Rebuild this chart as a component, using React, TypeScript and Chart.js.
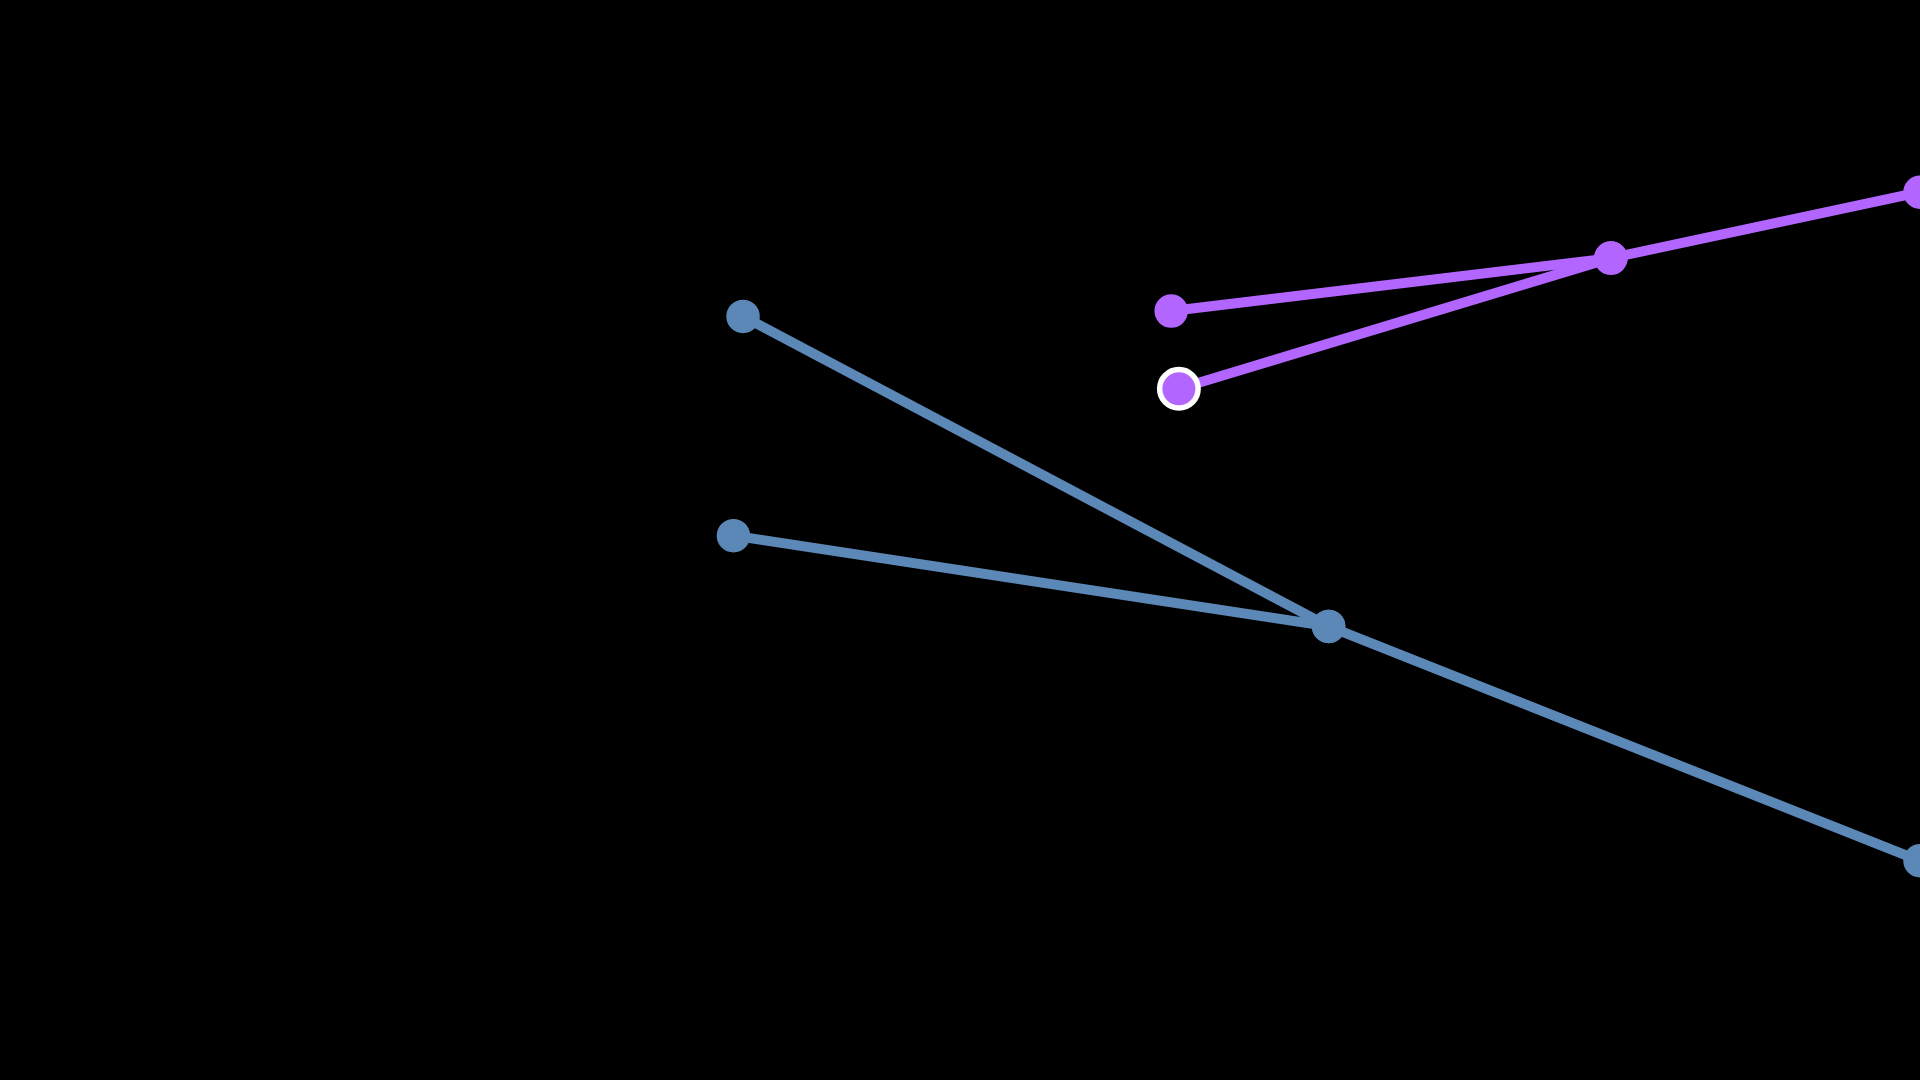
import React, { useEffect, useRef } from "react";
import { Chart, registerables } from "chart.js";

Chart.register(...registerables);

// Blue series: two branches meeting at a common point, then continuing
const blueMainX = [3.82, 6.92, 10];
const blueMainY = [5.04, 4.2, 2.03];
const blueBranchX = [3.87, 6.92];
const blueBranchY = [7.07, 4.2];

// Purple series: two branches meeting at a common point, then continuing
const purpleMainX = [6.1, 8.39, 10];
const purpleMainY = [7.12, 7.61, 8.22];
const purpleBranchX = [6.14, 8.39];
const purpleBranchY = [6.4, 7.61];

const BLUE = "#5B88B6";
const PURPLE = "#B266FF";

const toPoints = (xs: number[], ys: number[]) => xs.map((x, i) => ({ x, y: ys[i] }));

export default function App() {
  const ref = useRef<HTMLCanvasElement | null>(null);

  useEffect(() => {
    if (!ref.current) return;
    const chart = new Chart(ref.current, {
      type: "scatter",
      data: {
        datasets: [
          {
            label: "blue-branch",
            data: toPoints(blueBranchX, blueBranchY),
            showLine: true,
            borderColor: BLUE,
            backgroundColor: BLUE,
            borderWidth: 10,
            pointRadius: 16,
            pointBorderWidth: 1.5,
            pointBorderColor: BLUE,
            pointBackgroundColor: BLUE,
          },
          {
            label: "blue-main",
            data: toPoints(blueMainX, blueMainY),
            showLine: true,
            borderColor: BLUE,
            backgroundColor: BLUE,
            borderWidth: 10,
            pointRadius: 16,
            pointBorderWidth: 1.5,
            pointBorderColor: BLUE,
            pointBackgroundColor: BLUE,
          },
          {
            label: "purple-main",
            data: toPoints(purpleMainX, purpleMainY),
            showLine: true,
            borderColor: PURPLE,
            backgroundColor: PURPLE,
            borderWidth: 10,
            pointRadius: 16,
            pointBorderWidth: 1.5,
            pointBorderColor: PURPLE,
            pointBackgroundColor: PURPLE,
          },
          {
            label: "purple-branch",
            data: toPoints(purpleBranchX, purpleBranchY),
            showLine: true,
            borderColor: PURPLE,
            backgroundColor: PURPLE,
            borderWidth: 10,
            pointRadius: [19.25, 16],
            pointBorderWidth: [5.5, 1.5],
            pointBorderColor: ["#FFFFFF", PURPLE],
            pointBackgroundColor: PURPLE,
          },
        ],
      },
      options: {
        animation: false,
        responsive: true,
        maintainAspectRatio: false,
        layout: { padding: 0, autoPadding: false },
        events: [],
        plugins: {
          legend: { display: false },
          tooltip: { enabled: false },
          title: { display: false },
        },
        scales: {
          x: { type: "linear", display: false, min: 0, max: 10 },
          y: { type: "linear", display: false, min: 0, max: 10 },
        },
      },
    });
    return () => chart.destroy();
  }, []);

  return (
    <div
      style={{
        position: "fixed",
        left: 0,
        top: 0,
        width: "1920px",
        height: "1080px",
        background: "#000000",
      }}
    >
      <canvas ref={ref} />
    </div>
  );
}
